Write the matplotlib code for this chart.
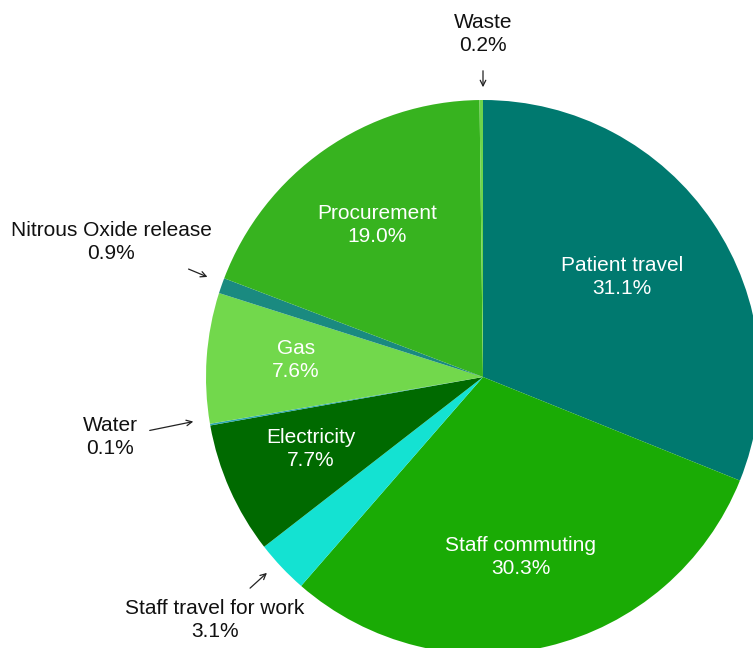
import matplotlib
matplotlib.use("Agg")
import matplotlib.pyplot as plt

plt.rcParams['font.family'] = ['Liberation Sans', 'DejaVu Sans']

# slices, clockwise from 12 o'clock
labels = ["Patient travel", "Staff commuting", "Staff travel for work", "Electricity",
          "Water", "Gas", "Nitrous Oxide release", "Procurement", "Waste"]
shares = [31.1, 30.3, 3.1, 7.7, 0.1, 7.6, 0.9, 19.0, 0.2]
colors = ["#00796f", "#1aab05", "#14e2d2", "#006a00",
          "#2aa8b0", "#72d84c", "#1a8a80", "#37b31f", "#6cd54a"]

# which slices get their label inside the pie
inside = ["Patient travel", "Staff commuting", "Procurement", "Gas", "Electricity"]

W, H = 753, 648
cx, cy, r = 483, H - 377, 277

fig = plt.figure(figsize=(W / 100, H / 100), dpi=100)
ax = fig.add_axes([0, 0, 1, 1])

wedges, _ = ax.pie(shares, colors=colors, startangle=90, counterclock=False,
                   center=(cx, cy), radius=r, frame=True,
                   wedgeprops=dict(linewidth=0))
ax.set_xlim(0, W)
ax.set_ylim(0, H)
ax.set_aspect('equal')
ax.axis('off')

# label positions in pixel coords (x, y from top)
inner_pos = {
    "Patient travel": (622, 277),
    "Staff commuting": (521, 557),
    "Procurement": (377, 225),
    "Gas": (296, 360),
    "Electricity": (311, 449),
}
for lab, val in zip(labels, shares):
    if lab in inside:
        x, y = inner_pos[lab]
        ax.text(x, H - y, f"{lab}\n{val:.1f}%", ha='center', va='center',
                color='white', fontsize=15, linespacing=1.3)

# outside labels: text position, arrow tail, arrow head
outer = {
    "Waste": ((483, 34), (483, 68), (483, 90)),
    "Nitrous Oxide release": ((111, 242), (186, 268), (210, 278)),
    "Water": ((110, 437), (147, 431), (196, 421)),
    "Staff travel for work": ((215, 620), (248, 590), (269, 571)),
}
for lab, val in zip(labels, shares):
    if lab in outer:
        (tx, ty), (ax0, ay0), (ax1, ay1) = outer[lab]
        ax.text(tx, H - ty, f"{lab}\n{val:.1f}%", ha='center', va='center',
                color='#111111', fontsize=15, linespacing=1.3)
        ax.annotate("", xy=(ax1, H - ay1), xytext=(ax0, H - ay0),
                    arrowprops=dict(arrowstyle='->', color='#222222', lw=0.9))

fig.savefig("out.png", dpi=100)
